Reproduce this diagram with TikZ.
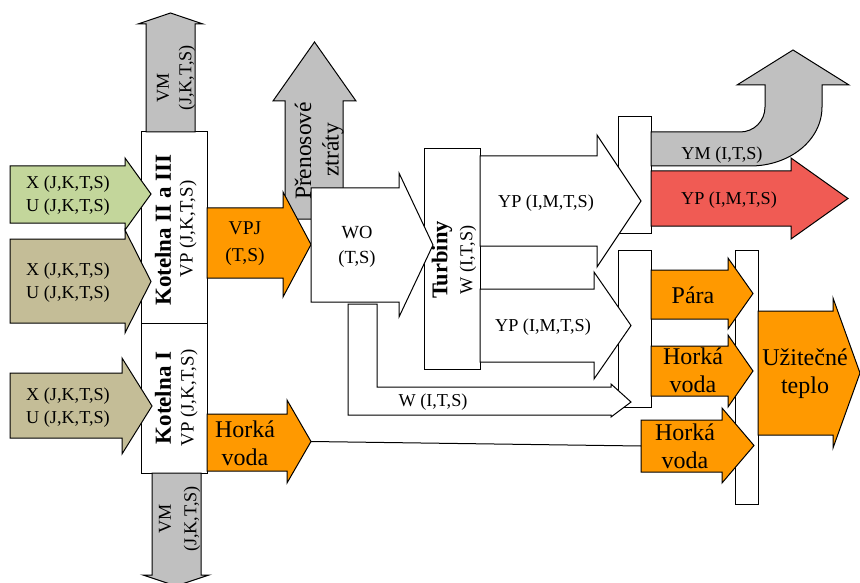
\documentclass[tikz,border=0pt]{standalone}
\usepackage{fontspec}
\setmainfont{Liberation Serif}
\begin{document}
\begin{tikzpicture}
  [x=1pt,y=-1pt,line join=miter,
   % Styles
   block/.style={draw,line width=1pt},
   box/.style={block,fill=white},
   small text/.style={font=\fontsize{18.2}{23}\selectfont,align=center,inner sep=0pt},
   big text/.style={font=\fontsize{24}{28}\selectfont,align=center,inner sep=0pt},
   title text/.style={font=\fontsize{23}{25}\selectfont\bfseries,inner sep=0pt}]

  % Local definitions
  % \rarrow{style}{left x}{shaft top}{shaft bottom}{head x}{tip x}{head top}{head bottom}
  \def\rarrow#1#2#3#4#5#6#7#8{%
    \path[block,#1] (#2,#3) -- (#5,#3) -- (#5,#7) -- (#6,{(#7+#8)/2})
      -- (#5,#8) -- (#5,#4) -- (#2,#4) -- cycle;}
  % \varrow{style}{base y}{shaft left}{shaft right}{head y}{tip y}{head left}{head right}
  \def\varrow#1#2#3#4#5#6#7#8{%
    \path[block,#1] (#3,#2) -- (#3,#5) -- (#7,#5) -- ({(#7+#8)/2},#6)
      -- (#8,#5) -- (#4,#5) -- (#4,#2) -- cycle;}

  % Colors
  \definecolor{fuelgreen}{RGB}{195,214,155}
  \definecolor{fueltan}{RGB}{196,189,151}
  \definecolor{heatorange}{RGB}{255,153,0}
  \definecolor{lossgrey}{RGB}{192,192,192}
  \definecolor{powerred}{RGB}{240,91,84}

  \useasboundingbox (0,0) rectangle (860,583);
  \clip (0,0) rectangle (860,583);

  % Boxes
  \draw[box] (141,132) rectangle (207,323);
  \draw[box] (141,323) rectangle (207,473);
  \draw[box] (424,149) rectangle (480,369);
  \draw[box] (618,117) rectangle (651,233);
  \draw[box] (618,250) rectangle (651,407);
  \draw[box] (735,250) rectangle (758,504);

  % Boilers
  \varrow{fill=lossgrey}{132}{146}{195}{24}{13}{138}{203}
  \varrow{fill=lossgrey}{473}{152}{201}{575}{586}{143}{209}
  \rarrow{fill=fuelgreen}{10}{166}{223}{125}{151}{158}{230}
  \rarrow{fill=fueltan}{10}{239}{323}{125}{151}{230}{333}
  \rarrow{fill=fueltan}{10}{373}{438}{122}{152}{358}{454}

  % Boiler outputs
  \varrow{fill=lossgrey}{219}{285}{343}{101}{42}{273}{356}
  \rarrow{fill=heatorange}{207}{208}{278}{283}{311}{192}{297}
  \rarrow{fill=heatorange}{207}{414}{471}{287}{311}{400}{483}
  \coordinate (hw out) at (311,441.5);

  % Turbines
  \path[block,fill=white] (348,304) -- (348,415) -- (611,415) -- (611,417)
    -- (631,402) -- (611,384) -- (611,387) -- (377,387) -- (377,304) -- cycle;
  \rarrow{fill=white}{311}{188}{302}{399}{433}{173}{317}
  \rarrow{fill=white}{480}{156}{246}{597}{641}{135}{267}
  \rarrow{fill=white}{480}{289}{362}{594}{631}{272}{379}

  % Outputs
  \path[block,fill=lossgrey] (651,132) -- (740,132)
    .. controls (754,132) and (765,121) .. (765,107) -- (765,85) -- (737,85)
    -- (793,50) -- (849,85) -- (822,85) -- (822,107)
    .. controls (822,140) and (790,166) .. (750,166) -- (651,166) -- cycle;
  \rarrow{fill=powerred}{651}{171}{226}{791}{848}{158}{239}
  \rarrow{fill=heatorange}{651}{270}{319}{728}{753}{258}{329}
  \rarrow{fill=heatorange}{651}{346}{396}{728}{753}{335}{407}
  \rarrow{fill=heatorange}{641}{420}{472}{722}{754}{408}{483}
  \coordinate (hw in) at (641,446);
  \rarrow{fill=heatorange}{758}{311}{435}{833}{860}{298}{448}

  \draw[block] (hw out) -- (hw in);

  % Texts
  \node[small text] (in green) at (68,195.5) {X (J,K,T,S)\\U (J,K,T,S)};
  \node[small text] (in tan a) at (68,283) {X (J,K,T,S)\\U (J,K,T,S)};
  \node[small text] (in tan b) at (68,407.5) {X (J,K,T,S)\\U (J,K,T,S)};
  \node[title text,rotate=90] (k23) at (163,230) {Kotelna II a III};
  \node[small text,font=\fontsize{18.8}{23}\selectfont,rotate=90] (k23 vp) at (188,229) {VP (J,K,T,S)};
  \node[title text,rotate=90] (k1) at (163,398) {Kotelna I};
  \node[small text,font=\fontsize{18.8}{23}\selectfont,rotate=90] (k1 vp) at (189,398) {VP (J,K,T,S)};
  \node[small text,rotate=90] (vm top) at (163,88) {VM};
  \node[small text,rotate=90] (vm top b) at (187,78) {(J,K,T,S)};
  \node[small text,rotate=90] (vm bot) at (165,519) {VM};
  \node[small text,rotate=90] (vm bot b) at (192,519) {(J,K,T,S)};
  \node[big text,font=\fontsize{23.5}{28}\selectfont,rotate=90] (loss) at (303,151) {Přenosové};
  \node[big text,font=\fontsize{23.5}{28}\selectfont,rotate=90] (loss b) at (333,150) {ztráty};
  \node[small text,font=\fontsize{19.5}{27}\selectfont] (vpj) at (245,243.5) {VPJ\\(T,S)};
  \node[big text] (hw left) at (245,443) {Horká\\voda};
  \node[small text,font=\fontsize{18.5}{25}\selectfont] (wo) at (357,246.5) {WO\\(T,S)};
  \node[title text,font=\fontsize{22.5}{25}\selectfont\bfseries,rotate=90] (turb) at (442,260) {Turbiny};
  \node[small text,rotate=90] (turb w) at (468,260) {W (I,T,S)};
  \node[small text] (yp a) at (546,203) {YP (I,M,T,S)};
  \node[small text] (yp b) at (543,327) {YP (I,M,T,S)};
  \node[small text] (w) at (433,402) {W (I,T,S)};
  \node[small text] (ym) at (722,155) {YM (I,T,S)};
  \node[small text] (yp red) at (729,200) {YP (I,M,T,S)};
  \node[big text] (para) at (693,295) {Pára};
  \node[big text] (hw mid) at (693,370.5) {Horká\\voda};
  \node[big text] (hw bot) at (685,446.5) {Horká\\voda};
  \node[big text] (heat) at (805,374) {Užitečné\\teplo};
\end{tikzpicture}
\end{document}
